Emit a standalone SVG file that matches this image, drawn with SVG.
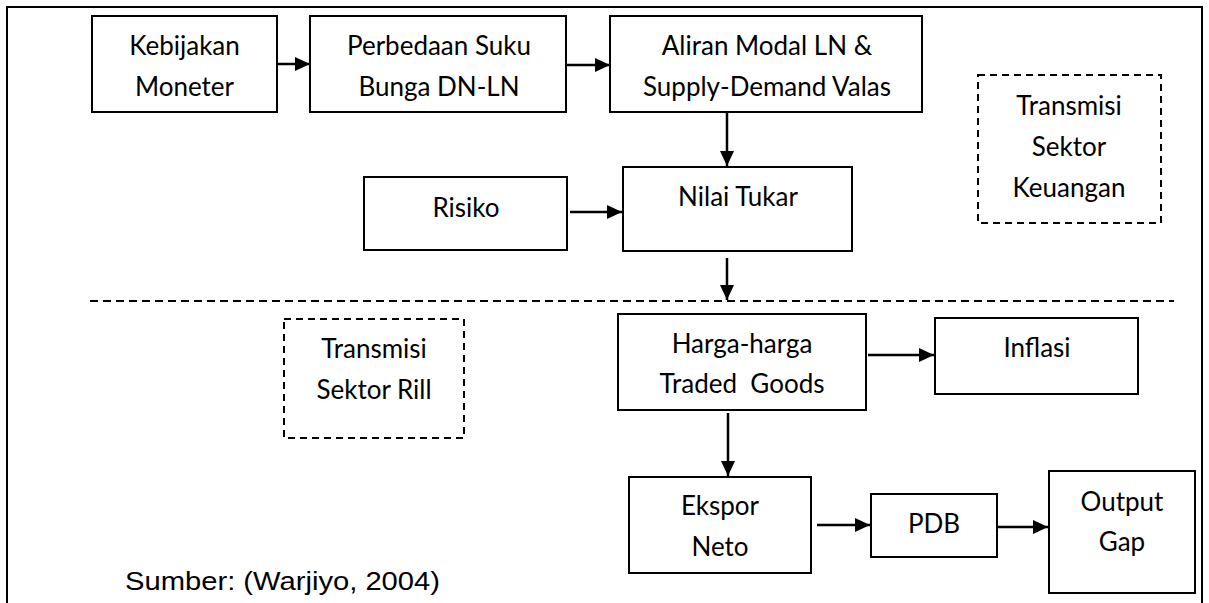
<svg xmlns="http://www.w3.org/2000/svg" width="1209" height="603" viewBox="0 0 1209 603">
<style>
.box{fill:#fff;stroke:#000;stroke-width:2}
.dash{fill:none;stroke:#000;stroke-width:2;stroke-dasharray:7,5}
.t{font-family:Lato,"Liberation Sans",sans-serif;font-size:26px;fill:#000;text-anchor:middle;white-space:pre}
.c{stroke:#000;stroke-width:2.5;fill:none}
</style>
<defs>
<marker id="ah" markerWidth="15" markerHeight="14" refX="15" refY="7" orient="auto" markerUnits="userSpaceOnUse">
<path d="M0,0 L15,7 L0,14 Z" fill="#000"/>
</marker>
</defs>
<rect x="0" y="0" width="1209" height="603" fill="#fff"/>
<path d="M7,603 V7 H1202 V603" fill="none" stroke="#000" stroke-width="2"/>
<line x1="90" y1="301" x2="1174" y2="301" class="dash" style="stroke-dasharray:8,5"/>
<g id="kebijakan"><rect class="box" x="92" y="16" width="185" height="96"/><text class="t" x="184.5" y="55">Kebijakan</text><text class="t" x="184.5" y="96">Moneter</text></g>
<g id="perbedaan"><rect class="box" x="310" y="16" width="256" height="96"/><text class="t" x="439" y="55">Perbedaan Suku</text><text class="t" x="439" y="96">Bunga DN-LN</text></g>
<g id="aliran"><rect class="box" x="610" y="16" width="312" height="96"/><text class="t" x="767" y="55">Aliran Modal LN &amp;</text><text class="t" x="767" y="96">Supply-Demand Valas</text></g>
<g id="keuangan"><rect class="dash" x="978" y="75" width="183" height="148"/><text class="t" x="1069" y="115">Transmisi</text><text class="t" x="1069" y="156">Sektor</text><text class="t" x="1069" y="197">Keuangan</text></g>
<g id="risiko"><rect class="box" x="364" y="177" width="203" height="73"/><text class="t" x="466" y="217">Risiko</text></g>
<g id="nilai"><rect class="box" x="623" y="167" width="229" height="84"/><text class="t" x="738" y="206">Nilai Tukar</text></g>
<g id="rill"><rect class="dash" x="284" y="319" width="180" height="119"/><text class="t" x="374" y="358">Transmisi</text><text class="t" x="374" y="399">Sektor Rill</text></g>
<g id="harga"><rect class="box" x="618" y="314" width="248" height="96"/><text class="t" x="742" y="353">Harga-harga</text><text class="t" x="742" y="393" xml:space="preserve">Traded  Goods</text></g>
<g id="inflasi"><rect class="box" x="935" y="318" width="203" height="76"/><text class="t" x="1037" y="357">Inflasi</text></g>
<g id="ekspor"><rect class="box" x="629" y="477" width="182" height="96"/><text class="t" x="720" y="515">Ekspor</text><text class="t" x="720" y="556">Neto</text></g>
<g id="pdb"><rect class="box" x="871" y="494" width="126" height="63"/><text class="t" x="934" y="533">PDB</text></g>
<g id="outputgap"><rect class="box" x="1049" y="471" width="146" height="122"/><text class="t" x="1122" y="511">Output</text><text class="t" x="1122" y="551">Gap</text></g>
<text x="125" y="590" textLength="315" lengthAdjust="spacingAndGlyphs" style="font-family:'Liberation Sans',Arial,sans-serif;font-size:25px;fill:#000">Sumber: (Warjiyo, 2004)</text>
<g id="connectors">
<line class="c" x1="277" y1="64" x2="310" y2="64" marker-end="url(#ah)"/>
<line class="c" x1="567" y1="65" x2="610" y2="65" marker-end="url(#ah)"/>
<line class="c" x1="727" y1="112" x2="727" y2="166" marker-end="url(#ah)"/>
<line class="c" x1="570" y1="212" x2="622" y2="212" marker-end="url(#ah)"/>
<line class="c" x1="727" y1="258" x2="727" y2="300" marker-end="url(#ah)"/>
<line class="c" x1="868" y1="355" x2="934" y2="355" marker-end="url(#ah)"/>
<line class="c" x1="728" y1="413" x2="728" y2="476" marker-end="url(#ah)"/>
<line class="c" x1="817" y1="525" x2="870" y2="525" marker-end="url(#ah)"/>
<line class="c" x1="997" y1="527" x2="1048" y2="527" marker-end="url(#ah)"/>
</g>
</svg>
